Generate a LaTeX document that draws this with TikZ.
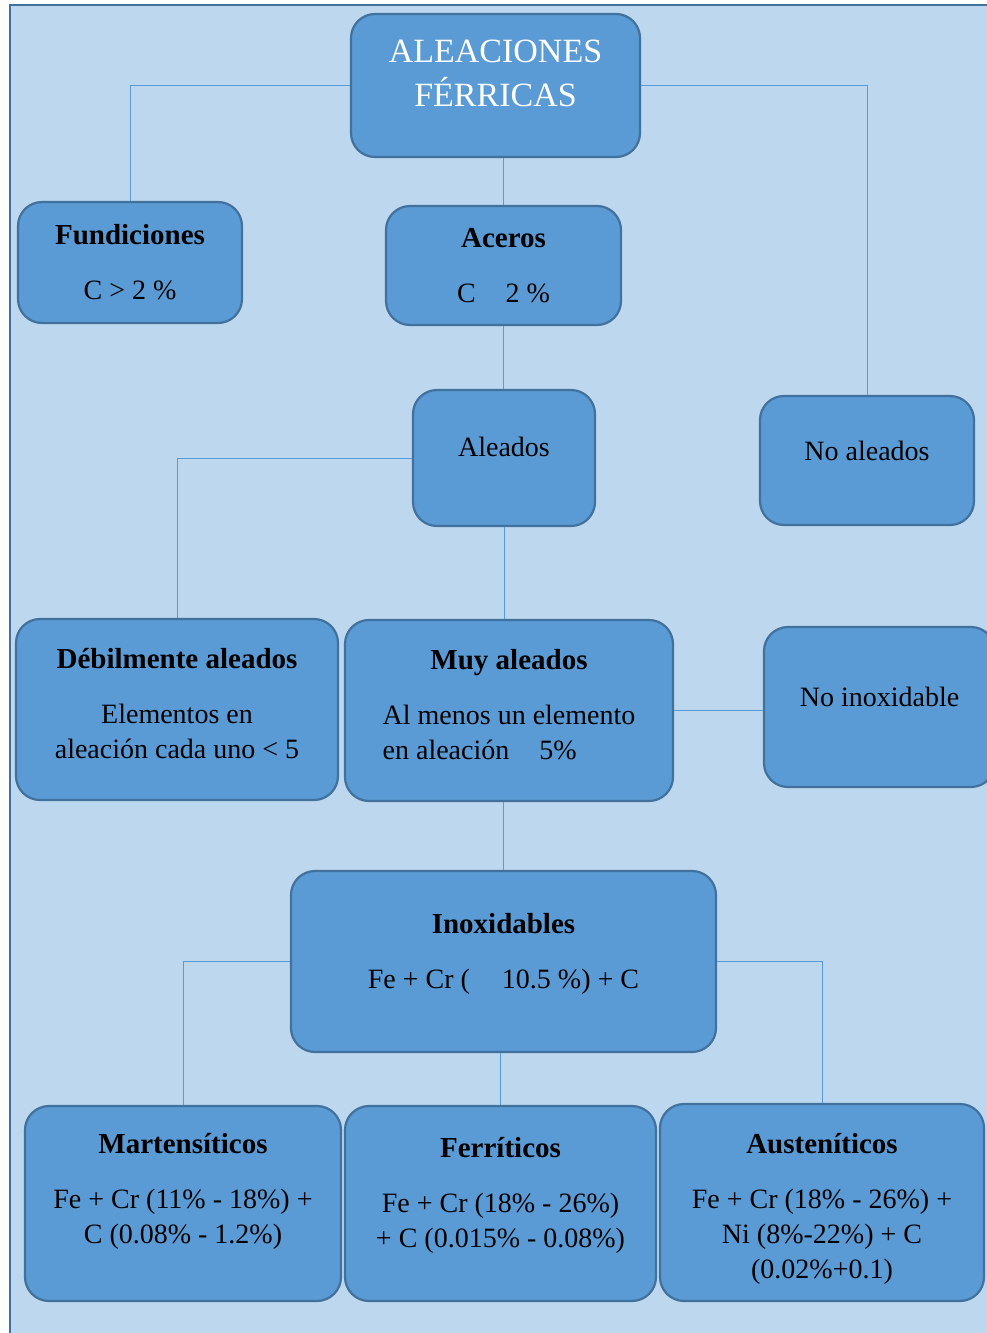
\documentclass[tikz,border=0pt]{standalone}
\usepackage{fontspec}
\setmainfont{Liberation Serif}
\usepackage{calc}
\usepackage{tikz}
\usetikzlibrary{calc}
\definecolor{fondoAzul}{RGB}{189,215,238}
\definecolor{cajaAzul} {RGB}{91, 155,213}
\definecolor{bordeAzul}{RGB}{65, 113,156}
\newcommand{\cab}[1]{{\fontsize{29}{35}\selectfont\bfseries #1}}
\newcommand{\relleno}[1]{\rule[-#1]{0pt}{#1}}

\begin{document}
\begin{tikzpicture}[x=1pt,y=-1pt,
        caja/.style={rectangle,rounded corners=24pt,draw=bordeAzul,fill=cajaAzul,
                     line width=2.2pt,align=center,inner sep=0pt,
                     font=\fontsize{28}{35}\selectfont},
        lin/.style={draw=cajaAzul,line width=1pt}]

        \useasboundingbox (0,0) rectangle (987,1333);
        \fill[fondoAzul] (10,5) rectangle (1000,1340);
        \draw[bordeAzul,line width=2.5pt] (10,1340) -- (10,5) -- (1000,5);

        \node[caja,minimum width=289pt,minimum height=143pt,text=white,
              font=\fontsize{34}{44}\selectfont] (tit) at (495.5,85.5)
              {ALEACIONES\\FÉRRICAS\relleno{25pt}};
        \node[caja,minimum width=224pt,minimum height=121pt] (fund) at (130,262.5)
              {\cab{Fundiciones}\\[20pt]C > 2 \%};
        \node[caja,minimum width=235pt,minimum height=119pt] (ace) at (503.5,265.5)
              {\cab{Aceros}\\[20pt]C\hspace{30pt}2 \%};
        \node[caja,minimum width=182pt,minimum height=136pt] (alea) at (504,458)
              {Aleados\relleno{22pt}};
        \node[caja,minimum width=214pt,minimum height=129pt] (noalea) at (867,460.5)
              {No aleados\relleno{20pt}};
        \node[caja,minimum width=322pt,minimum height=181pt] (debil) at (177,709.5)
              {\cab{Débilmente aleados}\\[20pt]Elementos en\\aleación cada uno < 5\relleno{12pt}};
        \node[caja,minimum width=328pt,minimum height=181pt] (muy) at (509,710.5)
              {\cab{Muy aleados}\\[20pt]Al menos un elemento\\
               \makebox[\widthof{Al menos un elemento}][l]{en aleación\hspace{30pt}5\%}\relleno{12pt}};
        \node[caja,minimum width=231pt,minimum height=160pt] (noinox) at (879.5,707)
              {No inoxidable\relleno{20pt}};
        \node[caja,minimum width=425pt,minimum height=181pt] (inox) at (503.5,961.5)
              {\cab{Inoxidables}\\[20pt]Fe + Cr (\hspace{32pt}10.5 \%) + C\relleno{21pt}};
        \node[caja,minimum width=316pt,minimum height=195pt] (mart) at (183,1203.5)
              {\cab{Martensíticos}\\[20pt]Fe + Cr (11\% - 18\%) +\\C (0.08\% - 1.2\%)\relleno{31pt}};
        \node[caja,minimum width=311pt,minimum height=195pt] (ferr) at (500.5,1203.5)
              {\cab{Ferríticos}\\[20pt]Fe + Cr (18\% - 26\%)\\+ C (0.015\% - 0.08\%)\relleno{23pt}};
        \node[caja,minimum width=324pt,minimum height=197pt] (aust) at (822,1202.5)
              {\rule{0pt}{32pt}\cab{Austeníticos}\\[20pt]Fe + Cr (18\% - 26\%) +\\Ni (8\%-22\%) + C\\(0.02\%+0.1)};

        % conectores
        \foreach \a/\b in {tit/fund,tit/noalea,alea/debil,inox/mart,inox/aust}{
          \draw[lin] (\a) -| (\b);
        }
        \foreach \a/\b in {tit/ace,muy/inox,inox/ferr}{
          \draw[lin] (\b.north) -- (\b.north |- \a.south);
        }
        \foreach \a/\b in {ace/alea,alea/muy}{
          \draw[lin] (\a.south) -- (\a.south |- \b.north);
        }
        \draw[lin] (muy.east) -- (muy.east -| noinox.west);
      \end{tikzpicture}
\end{document}
